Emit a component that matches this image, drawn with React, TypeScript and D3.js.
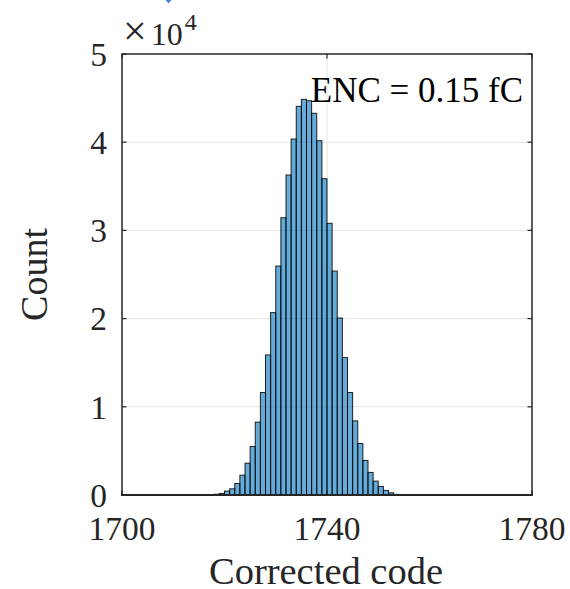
import React from "react";
import * as d3 from "d3";

// Histogram of corrected ADC codes (bin width 1 code)
const binStarts: number[] = [
  1716, 1717, 1718, 1719, 1720, 1721, 1722, 1723, 1724, 1725,
  1726, 1727, 1728, 1729, 1730, 1731, 1732, 1733, 1734, 1735,
  1736, 1737, 1738, 1739, 1740, 1741, 1742, 1743, 1744, 1745,
  1746, 1747, 1748, 1749, 1750, 1751, 1752, 1753, 1754, 1755,
];
const counts: number[] = [
  10, 30, 90, 180, 440, 700, 1310, 2250, 3610, 5500,
  8260, 11620, 15880, 20680, 25960, 31440, 36280, 40360, 44070, 44860,
  44700, 43280, 40170, 35860, 30800, 25390, 20070, 15580, 11620, 8400,
  5840, 3920, 2560, 1570, 970, 520, 250, 70, 30, 10,
];
const xTicks: number[] = [1700, 1740, 1780];
const yTicks: number[] = [0, 1, 2, 3, 4, 5]; // in units of 10^4
const xDomain: [number, number] = [1700, 1780];
const yMax = 5e4;
const binWidth = 1;
const annotation = "ENC = 0.15 fC";
const xLabel = "Corrected code";
const yLabel = "Count";

const W = 570;
const H = 589;
const left = 122;
const right = 532;
const top = 54;
const bottom = 495;
const font = "'Liberation Serif', 'Times New Roman', serif";
const axisColor = "#262626";

export default function App() {
  const x = d3.scaleLinear().domain(xDomain).range([left, right]);
  const y = d3.scaleLinear().domain([0, yMax]).range([bottom, top]);
  const tickLen = 4.5;

  return (
    <svg
      width={W}
      height={H}
      viewBox={`0 0 ${W} ${H}`}
      style={{ position: "absolute", left: 0, top: 0, background: "#fff" }}
    >
      <rect x={0} y={0} width={W} height={H} fill="#fff" />

      {/* small marker at the top edge */}
      <path d="M164,-2 L168.5,3.5 L173,-2 Z" fill="#3f82d6" />

      {/* grid */}
      <g stroke="#e3e3e3" strokeWidth={1}>
        {yTicks
          .filter((t) => t > 0 && t < 5)
          .map((t) => (
            <line key={"gy" + t} x1={left} x2={right} y1={y(t * 1e4)} y2={y(t * 1e4)} />
          ))}
        {xTicks
          .filter((t) => t > xDomain[0] && t < xDomain[1])
          .map((t) => (
            <line key={"gx" + t} x1={x(t)} x2={x(t)} y1={top} y2={bottom} />
          ))}
      </g>

      {/* bars */}
      <g>
        {binStarts.map((b, i) => (
          <rect
            key={b}
            x={x(b)}
            y={y(counts[i])}
            width={x(b + binWidth) - x(b)}
            height={bottom - y(counts[i])}
            fill="#0072BD"
            fillOpacity={0.6}
            stroke="#000"
            strokeOpacity={0.85}
            strokeWidth={1}
          />
        ))}
      </g>

      {/* axes box */}
      <rect
        x={left}
        y={top}
        width={right - left}
        height={bottom - top}
        fill="none"
        stroke={axisColor}
        strokeWidth={1.5}
      />
      <line x1={left - 0.75} x2={right + 0.75} y1={bottom} y2={bottom} stroke={axisColor} strokeWidth={2.2} />

      {/* tick marks */}
      <g stroke={axisColor} strokeWidth={1.2}>
        {xTicks.map((t) => (
          <g key={"tx" + t}>
            <line x1={x(t)} x2={x(t)} y1={bottom} y2={bottom - tickLen} />
            <line x1={x(t)} x2={x(t)} y1={top} y2={top + tickLen} />
          </g>
        ))}
        {yTicks.map((t) => (
          <g key={"ty" + t}>
            <line x1={left} x2={left + tickLen} y1={y(t * 1e4)} y2={y(t * 1e4)} />
            <line x1={right} x2={right - tickLen} y1={y(t * 1e4)} y2={y(t * 1e4)} />
          </g>
        ))}
      </g>

      {/* tick labels */}
      <g fontFamily={font} fontSize={33.5} fill={axisColor}>
        {xTicks.map((t) => (
          <text key={"lx" + t} x={x(t)} y={540} textAnchor="middle">
            {t}
          </text>
        ))}
        {yTicks.map((t) => (
          <text key={"ly" + t} x={107} y={y(t * 1e4)} dy="0.35em" textAnchor="end">
            {t}
          </text>
        ))}
      </g>

      {/* exponent */}
      <text x={123} y={45} fontFamily={font} fontSize={32} fill={axisColor}>
        <tspan fontSize={42}>×</tspan>
        <tspan dx={4}>10</tspan>
        <tspan dx={2} dy={-15} fontSize={24}>
          4
        </tspan>
      </text>

      {/* axis labels */}
      <text
        x={(left + right) / 2 - 1}
        y={584}
        textAnchor="middle"
        fontFamily={font}
        fontSize={38.5}
        fill={axisColor}
      >
        {xLabel}
      </text>
      <text
        transform={`translate(47,${(top + bottom) / 2}) rotate(-90)`}
        textAnchor="middle"
        fontFamily={font}
        fontSize={38}
        fill={axisColor}
      >
        {yLabel}
      </text>

      {/* annotation */}
      <text x={523} y={102} textAnchor="end" fontFamily={font} fontSize={35} fill="#000">
        {annotation}
      </text>
    </svg>
  );
}
